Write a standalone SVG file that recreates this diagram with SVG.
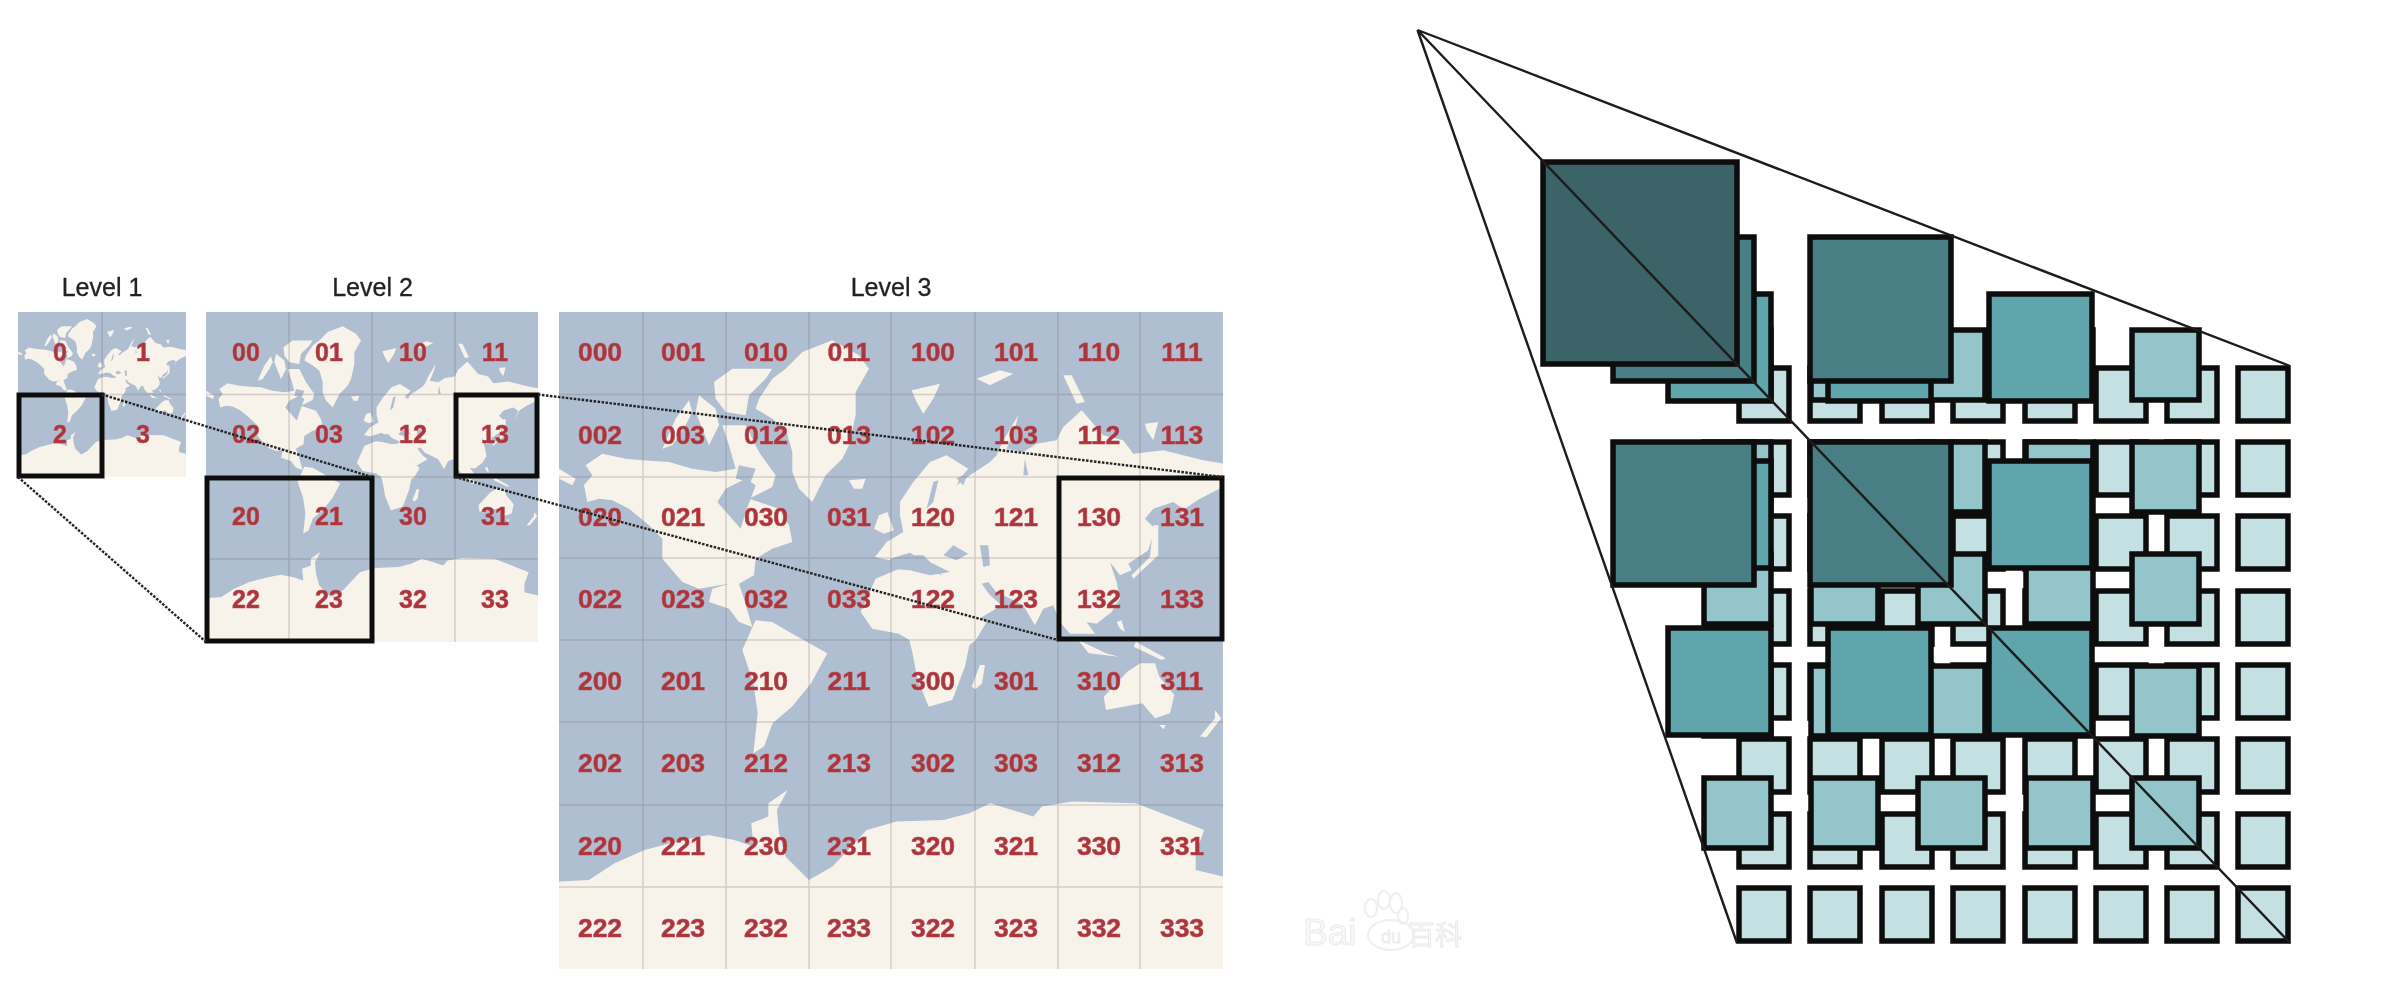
<svg xmlns="http://www.w3.org/2000/svg" width="2406" height="998" viewBox="0 0 2406 998">
<style>
.lv{font:25px "Liberation Sans",Arial,sans-serif;fill:#222;stroke:#222;stroke-width:.3;text-anchor:middle}
.n{font:bold 25px "Liberation Sans",Arial,sans-serif;fill:#ac343b;stroke:#b84b52;stroke-width:.6;text-anchor:middle}
.n3{font:bold 26.500px "Liberation Sans",Arial,sans-serif;fill:#ac343b;stroke:#b84b52;stroke-width:.6;text-anchor:middle}
.g{stroke:#7d6f78;stroke-opacity:.28;stroke-width:1.5;fill:none}
.b{fill:none;stroke:#111;stroke-width:5}
.d{stroke:#222;stroke-width:2.400;stroke-dasharray:2.500 1.500;fill:none}
.t0{fill:#c4e0e3;stroke:#0a0a0a;stroke-width:5.500}
.t1{fill:#93c5cb;stroke:#0a0a0a;stroke-width:5.500}
.t2{fill:#60a4ac;stroke:#0a0a0a;stroke-width:5.500}
.t3{fill:#4a7e85;stroke:#0a0a0a;stroke-width:5.500}
.t4{fill:#3a6367;stroke:#0a0a0a;stroke-width:5.500}
.r{stroke:#1c1c1c;stroke-width:2.400;fill:none}
.w{fill:#f8f8f8;stroke:#ebebeb;stroke-width:1}
</style>
<defs>
<filter id="soft" x="-2%" y="-2%" width="104%" height="104%"><feGaussianBlur stdDeviation="0.6"/></filter>
<clipPath id="mapclip"><rect width="1992" height="1971"/></clipPath>
<g id="map" clip-path="url(#mapclip)">
<rect width="1992" height="1971" fill="#afbed0"/>
<g fill="#f7f2ea">
<polygon points="80,460 130,425 200,440 250,445 330,450 400,470 470,480 530,470 510,400 490,340 560,340 600,420 650,490 640,525 570,560 660,590 690,640 700,690 640,710 590,740 585,790 540,815 555,860 580,945 540,930 510,890 450,870 460,830 510,815 420,830 370,810 310,740 310,680 270,640 210,590 160,565 120,560 85,570 75,520 100,490"/>
<polygon points="0,470 50,500 40,520 0,500"/>
<polygon points="310,410 350,320 390,265 400,300 380,340 340,400"/>
<polygon points="420,250 470,290 480,340 450,400 430,350 410,300"/>
<polygon points="465,210 520,170 640,170 620,200 570,250 560,310 500,300 470,260"/>
<polygon points="730,120 820,85 900,130 930,170 890,240 890,310 870,400 850,440 800,490 760,570 720,530 700,480 700,420 680,350 640,320 590,290 600,260 640,200 680,170"/>
<polygon points="870,505 920,500 910,530 885,530"/>
<polygon points="960,610 985,600 1005,655 975,665 945,650"/>
<polygon points="905,900 950,800 1020,770 1100,775 1150,790 1195,835 1230,890 1282,932 1250,985 1231,1000 1218,1064 1180,1164 1109,1184 1075,1100 1060,1020 1051,984 1020,965 940,950"/>
<g transform="translate(993 0)">
<polygon points="-45,735 -10,690 40,660 30,610 30,570 70,510 120,450 170,430 235,470 210,500 200,520 240,490 300,450 320,430 340,385 385,310 375,350 350,410 400,420 440,395 500,385 520,345 575,295 640,370 700,385 730,425 820,415 940,445 1000,455 1000,525 930,560 885,590 860,650 880,590 850,570 790,590 765,620 795,650 775,715 715,755 725,775 690,790 660,750 680,810 690,860 665,900 620,935 590,930 615,965 540,965 510,930 490,880 460,890 435,940 400,880 340,850 300,835 275,815 300,850 335,880 260,925 215,860 165,800 130,760 100,730 50,730 0,745"/>
<polygon points="520,190 545,190 585,270 560,275"/>
<polygon points="260,200 330,175 370,185 300,220"/>
<polygon points="65,235 150,215 130,260 100,305 80,270"/>
<polygon points="765,335 805,330 790,385 770,355"/>
<polygon points="790,640 805,640 805,730 730,800 725,790 780,735"/>
<polygon points="680,930 695,925 705,960 690,950"/>
<polygon points="570,990 640,1020 600,1015"/>
</g>
<g transform="matrix(1.282 0 0 1 0 984)">
<polygon points="1215,0 1280,40 1310,50 1240,40"/>
<polygon points="1350,5 1420,55 1410,60 1345,20"/>
<polygon points="1275,170 1330,95 1360,70 1395,70 1405,110 1440,165 1430,220 1395,235 1365,190 1280,210"/>
<polygon points="1405,255 1420,255 1415,268"/>
<polygon points="1500,290 1535,235 1535,210 1550,235 1515,292"/>
<polygon points="966,140 985,75 997,75 990,130 975,148"/>
<polygon points="429,30 460,-59 499,-54 546,-19 628,40 590,130 545,200 500,250 480,320 455,340 465,220 455,130"/>
<polygon points="0,725 70,720 130,670 200,630 290,600 350,585 410,600 455,620 450,550 490,530 490,490 535,450 510,510 515,580 530,650 585,720 640,680 720,570 790,545 900,540 960,520 1010,490 1060,510 1110,530 1130,500 1200,485 1350,490 1430,530 1510,570 1490,640 1490,690 1554,710 1554,987 0,987"/>
</g>
</g>
<g fill="#afbed0">
<polygon points="475,570 500,530 560,500 590,520 560,600 545,650 510,610"/>
<polygon points="350,430 400,440 380,465"/>
<polygon points="540,460 590,470 575,510 530,500"/>
<g transform="translate(993 0)">
<polygon points="0,740 60,722 90,740 130,755 180,780 120,790 60,775 0,770"/>
<polygon points="160,730 190,700 235,725 200,745"/>
<polygon points="270,700 295,700 300,760 280,765"/>
<polygon points="110,590 130,510 145,505 130,570"/>
<polygon points="200,500 235,480 220,520"/>
<polygon points="275,815 295,810 335,860 310,845"/>
<polygon points="405,440 415,490 400,490"/>
</g>
</g>
</g>
</defs>

<g id="level1" filter="url(#soft)">
<use href="#map" transform="matrix(.0843 0 0 .0837 18 312)"/>
<path class="g" d="M102 312V477M18 394.500H186"/>
<text class="lv" x="102" y="296">Level 1</text>
<text class="n" x="60" y="361">0</text><text class="n" x="143" y="361">1</text>
<text class="n" x="60" y="443">2</text><text class="n" x="143" y="443">3</text>
</g>

<g id="level2" filter="url(#soft)">
<use href="#map" transform="matrix(.1667 0 0 .1674 206 312)"/>
<path class="g" d="M289 312V642M372 312V642M455 312V642M206 394.500H538M206 477H538M206 559H538"/>
<text class="lv" x="372.500" y="296">Level 2</text>
<text class="n" x="246" y="361">00</text><text class="n" x="329" y="361">01</text><text class="n" x="413" y="361">10</text><text class="n" x="495" y="361">11</text>
<text class="n" x="246" y="443">02</text><text class="n" x="329" y="443">03</text><text class="n" x="413" y="443">12</text><text class="n" x="495" y="443">13</text>
<text class="n" x="246" y="525">20</text><text class="n" x="329" y="525">21</text><text class="n" x="413" y="525">30</text><text class="n" x="495" y="525">31</text>
<text class="n" x="246" y="608">22</text><text class="n" x="329" y="608">23</text><text class="n" x="413" y="608">32</text><text class="n" x="495" y="608">33</text>
</g>

<g id="level3" filter="url(#soft)">
<use href="#map" transform="matrix(.3333 0 0 .3333 559 312)"/>
<path class="g" d="M643 312V969M726 312V969M809 312V969M891 312V969M975 312V969M1058 312V969M1140 312V969M559 394.500H1223M559 477H1223M559 558H1223M559 640H1223M559 722H1223M559 805H1223M559 887H1223"/>
<text class="lv" x="891" y="296">Level 3</text>
<text class="n3" x="600" y="361">000</text><text class="n3" x="683" y="361">001</text><text class="n3" x="766" y="361">010</text><text class="n3" x="849" y="361">011</text><text class="n3" x="933" y="361">100</text><text class="n3" x="1016" y="361">101</text><text class="n3" x="1099" y="361">110</text><text class="n3" x="1182" y="361">111</text>
<text class="n3" x="600" y="444">002</text><text class="n3" x="683" y="444">003</text><text class="n3" x="766" y="444">012</text><text class="n3" x="849" y="444">013</text><text class="n3" x="933" y="444">102</text><text class="n3" x="1016" y="444">103</text><text class="n3" x="1099" y="444">112</text><text class="n3" x="1182" y="444">113</text>
<text class="n3" x="600" y="526">020</text><text class="n3" x="683" y="526">021</text><text class="n3" x="766" y="526">030</text><text class="n3" x="849" y="526">031</text><text class="n3" x="933" y="526">120</text><text class="n3" x="1016" y="526">121</text><text class="n3" x="1099" y="526">130</text><text class="n3" x="1182" y="526">131</text>
<text class="n3" x="600" y="608">022</text><text class="n3" x="683" y="608">023</text><text class="n3" x="766" y="608">032</text><text class="n3" x="849" y="608">033</text><text class="n3" x="933" y="608">122</text><text class="n3" x="1016" y="608">123</text><text class="n3" x="1099" y="608">132</text><text class="n3" x="1182" y="608">133</text>
<text class="n3" x="600" y="690">200</text><text class="n3" x="683" y="690">201</text><text class="n3" x="766" y="690">210</text><text class="n3" x="849" y="690">211</text><text class="n3" x="933" y="690">300</text><text class="n3" x="1016" y="690">301</text><text class="n3" x="1099" y="690">310</text><text class="n3" x="1182" y="690">311</text>
<text class="n3" x="600" y="772">202</text><text class="n3" x="683" y="772">203</text><text class="n3" x="766" y="772">212</text><text class="n3" x="849" y="772">213</text><text class="n3" x="933" y="772">302</text><text class="n3" x="1016" y="772">303</text><text class="n3" x="1099" y="772">312</text><text class="n3" x="1182" y="772">313</text>
<text class="n3" x="600" y="855">220</text><text class="n3" x="683" y="855">221</text><text class="n3" x="766" y="855">230</text><text class="n3" x="849" y="855">231</text><text class="n3" x="933" y="855">320</text><text class="n3" x="1016" y="855">321</text><text class="n3" x="1099" y="855">330</text><text class="n3" x="1182" y="855">331</text>
<text class="n3" x="600" y="937">222</text><text class="n3" x="683" y="937">223</text><text class="n3" x="766" y="937">232</text><text class="n3" x="849" y="937">233</text><text class="n3" x="933" y="937">322</text><text class="n3" x="1016" y="937">323</text><text class="n3" x="1099" y="937">332</text><text class="n3" x="1182" y="937">333</text>
</g>

<g id="map-connectors" filter="url(#soft)">
<rect class="b" x="19" y="395" width="83" height="81"/>
<rect class="b" x="456" y="395" width="81" height="81"/>
<rect class="b" x="207" y="478" width="165" height="163"/>
<rect class="b" x="1059" y="478" width="163" height="161"/>
<path class="d" d="M102 394.500L372 477M18 477L206 642M538 394.500L1223 477M455 477L1058 640"/>
</g>

<g id="watermark" filter="url(#soft)">
<text class="w" x="1303" y="945" style="font:37px 'Liberation Sans',Arial,sans-serif">Bai</text>
<text class="w" x="1381" y="943" style="font:18px 'Liberation Sans',Arial,sans-serif">du</text>
<text class="w" x="1408" y="945" style="font:27px 'Noto Sans CJK SC','Liberation Sans',sans-serif">百科</text>
<g fill="none" stroke="#efefef" stroke-width="2">
<ellipse cx="1391" cy="935" rx="23" ry="15"/>
<ellipse cx="1371" cy="908" rx="6" ry="9"/>
<ellipse cx="1384" cy="900" rx="6" ry="9"/>
<ellipse cx="1396" cy="903" rx="6" ry="10"/>
<ellipse cx="1403" cy="916" rx="5" ry="8"/>
</g>
</g>

<g id="pyramid" filter="url(#soft)">
<g id="pyramid-level0">
<rect class="t0" x="1739" y="368" width="50" height="53"/><rect class="t0" x="1810" y="368" width="50" height="53"/><rect class="t0" x="1882" y="368" width="50" height="53"/><rect class="t0" x="1953" y="368" width="50" height="53"/><rect class="t0" x="2025" y="368" width="50" height="53"/><rect class="t0" x="2096" y="368" width="50" height="53"/><rect class="t0" x="2167" y="368" width="50" height="53"/><rect class="t0" x="2238" y="368" width="50" height="53"/>
<rect class="t0" x="1739" y="442" width="50" height="53"/><rect class="t0" x="1810" y="442" width="50" height="53"/><rect class="t0" x="1882" y="442" width="50" height="53"/><rect class="t0" x="1953" y="442" width="50" height="53"/><rect class="t0" x="2025" y="442" width="50" height="53"/><rect class="t0" x="2096" y="442" width="50" height="53"/><rect class="t0" x="2167" y="442" width="50" height="53"/><rect class="t0" x="2238" y="442" width="50" height="53"/>
<rect class="t0" x="1739" y="516" width="50" height="53"/><rect class="t0" x="1810" y="516" width="50" height="53"/><rect class="t0" x="1882" y="516" width="50" height="53"/><rect class="t0" x="1953" y="516" width="50" height="53"/><rect class="t0" x="2025" y="516" width="50" height="53"/><rect class="t0" x="2096" y="516" width="50" height="53"/><rect class="t0" x="2167" y="516" width="50" height="53"/><rect class="t0" x="2238" y="516" width="50" height="53"/>
<rect class="t0" x="1739" y="591" width="50" height="53"/><rect class="t0" x="1810" y="591" width="50" height="53"/><rect class="t0" x="1882" y="591" width="50" height="53"/><rect class="t0" x="1953" y="591" width="50" height="53"/><rect class="t0" x="2025" y="591" width="50" height="53"/><rect class="t0" x="2096" y="591" width="50" height="53"/><rect class="t0" x="2167" y="591" width="50" height="53"/><rect class="t0" x="2238" y="591" width="50" height="53"/>
<rect class="t0" x="1739" y="665" width="50" height="53"/><rect class="t0" x="1810" y="665" width="50" height="53"/><rect class="t0" x="1882" y="665" width="50" height="53"/><rect class="t0" x="1953" y="665" width="50" height="53"/><rect class="t0" x="2025" y="665" width="50" height="53"/><rect class="t0" x="2096" y="665" width="50" height="53"/><rect class="t0" x="2167" y="665" width="50" height="53"/><rect class="t0" x="2238" y="665" width="50" height="53"/>
<rect class="t0" x="1739" y="739" width="50" height="53"/><rect class="t0" x="1810" y="739" width="50" height="53"/><rect class="t0" x="1882" y="739" width="50" height="53"/><rect class="t0" x="1953" y="739" width="50" height="53"/><rect class="t0" x="2025" y="739" width="50" height="53"/><rect class="t0" x="2096" y="739" width="50" height="53"/><rect class="t0" x="2167" y="739" width="50" height="53"/><rect class="t0" x="2238" y="739" width="50" height="53"/>
<rect class="t0" x="1739" y="814" width="50" height="53"/><rect class="t0" x="1810" y="814" width="50" height="53"/><rect class="t0" x="1882" y="814" width="50" height="53"/><rect class="t0" x="1953" y="814" width="50" height="53"/><rect class="t0" x="2025" y="814" width="50" height="53"/><rect class="t0" x="2096" y="814" width="50" height="53"/><rect class="t0" x="2167" y="814" width="50" height="53"/><rect class="t0" x="2238" y="814" width="50" height="53"/>
<rect class="t0" x="1739" y="888" width="50" height="53"/><rect class="t0" x="1810" y="888" width="50" height="53"/><rect class="t0" x="1882" y="888" width="50" height="53"/><rect class="t0" x="1953" y="888" width="50" height="53"/><rect class="t0" x="2025" y="888" width="50" height="53"/><rect class="t0" x="2096" y="888" width="50" height="53"/><rect class="t0" x="2167" y="888" width="50" height="53"/><rect class="t0" x="2238" y="888" width="50" height="53"/>
</g>
<g id="pyramid-level1">
<rect class="t1" x="1704" y="330" width="67" height="70"/><rect class="t1" x="1811" y="330" width="67" height="70"/><rect class="t1" x="1918" y="330" width="67" height="70"/><rect class="t1" x="2026" y="330" width="67" height="70"/><rect class="t1" x="2132" y="330" width="67" height="70"/>
<rect class="t1" x="1704" y="442" width="67" height="70"/><rect class="t1" x="1811" y="442" width="67" height="70"/><rect class="t1" x="1918" y="442" width="67" height="70"/><rect class="t1" x="2026" y="442" width="67" height="70"/><rect class="t1" x="2132" y="442" width="67" height="70"/>
<rect class="t1" x="1704" y="554" width="67" height="70"/><rect class="t1" x="1811" y="554" width="67" height="70"/><rect class="t1" x="1918" y="554" width="67" height="70"/><rect class="t1" x="2026" y="554" width="67" height="70"/><rect class="t1" x="2132" y="554" width="67" height="70"/>
<rect class="t1" x="1704" y="666" width="67" height="70"/><rect class="t1" x="1811" y="666" width="67" height="70"/><rect class="t1" x="1918" y="666" width="67" height="70"/><rect class="t1" x="2026" y="666" width="67" height="70"/><rect class="t1" x="2132" y="666" width="67" height="70"/>
<rect class="t1" x="1704" y="778" width="67" height="70"/><rect class="t1" x="1811" y="778" width="67" height="70"/><rect class="t1" x="1918" y="778" width="67" height="70"/><rect class="t1" x="2026" y="778" width="67" height="70"/><rect class="t1" x="2132" y="778" width="67" height="70"/>
</g>
<g id="pyramid-level2">
<rect class="t2" x="1668" y="294" width="103" height="107"/><rect class="t2" x="1828" y="294" width="103" height="107"/><rect class="t2" x="1989" y="294" width="103" height="107"/>
<rect class="t2" x="1668" y="461" width="103" height="107"/><rect class="t2" x="1828" y="461" width="103" height="107"/><rect class="t2" x="1989" y="461" width="103" height="107"/>
<rect class="t2" x="1668" y="628" width="103" height="107"/><rect class="t2" x="1828" y="628" width="103" height="107"/><rect class="t2" x="1989" y="628" width="103" height="107"/>
</g>
<g id="pyramid-level3">
<rect class="t3" x="1613" y="237" width="141" height="144"/><rect class="t3" x="1810" y="237" width="141" height="144"/>
<rect class="t3" x="1613" y="442" width="141" height="143"/><rect class="t3" x="1810" y="442" width="141" height="143"/>
</g>
<g id="pyramid-level4">
<rect class="t4" x="1543" y="162" width="194" height="202"/>
</g>
<g id="pyramid-connectors">
<path class="r" d="M1417.500 30L2290 366M1417.500 30L2290 943M1417.500 30L1737 943"/>
</g>
</g>
</svg>
